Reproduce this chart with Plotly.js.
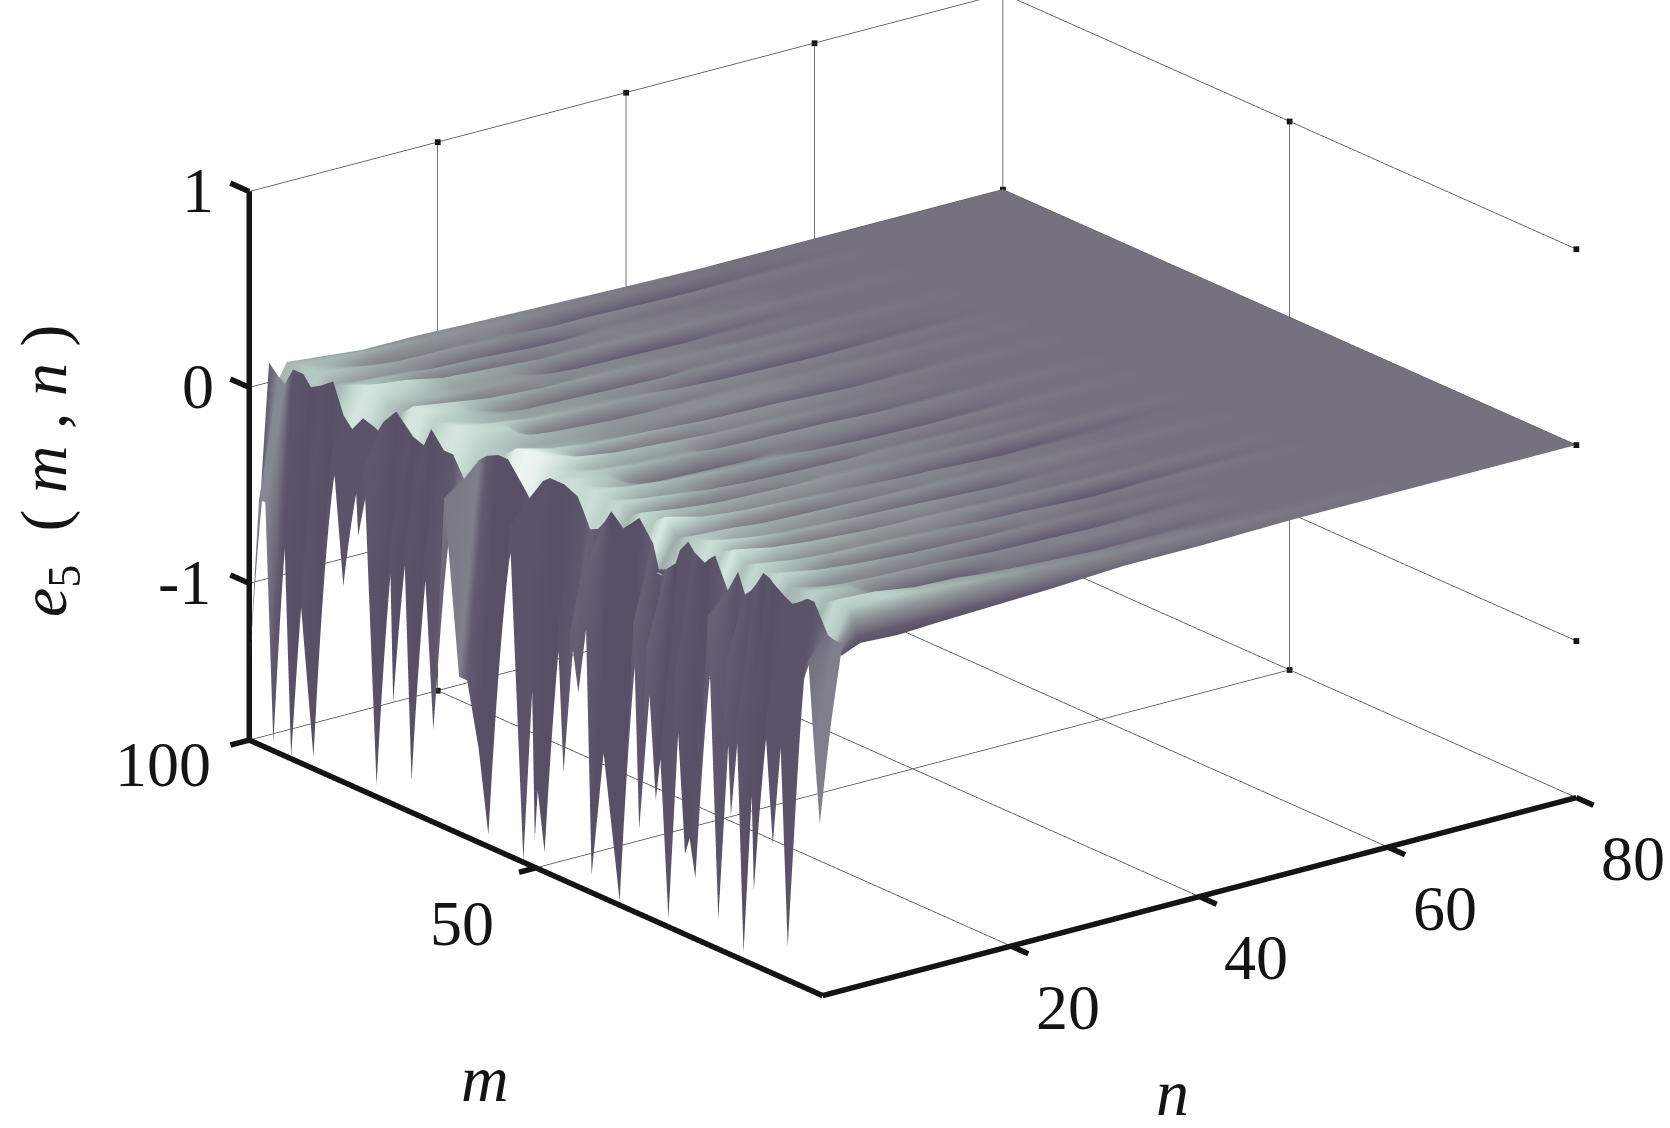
<!DOCTYPE html>
<html><head><meta charset="utf-8">
<script src="https://cdn.plot.ly/plotly-3.0.1.min.js"></script>
<style>html,body{margin:0;padding:0;background:#fff}#c{width:1670px;height:1128px}</style></head>
<body><div id="c"></div>
<script>
// near edge: m position, z at n=0, z at rim, face shade
const mNear=[0,0.5,1.5,2.5,4.9,6.1,7.7,8.7,10,12,12.7,13.8,15,16,17,18.2,20,22.2,23.2,24,25.8,26.9,28.3,29.1,30.7,32,33,35.4,38.2,40.3,41.5,42.6,44,45.2,46.2,48.5,49.7,50.2,51,52.2,54.6,55,56,58.3,60,62,63.4,66,67.9,69.5,71.7,73,74.9,75.5,77.8,80,81,81.5,83.6,85.5,87,88.8,91,92.7,94,95.8,97.2,98.3,100];
const zEdge=[-0.70,-0.93,-0.55,-0.12,-0.44,-1.63,-0.32,-1.14,-0.56,-1.42,-0.51,-1.76,-0.60,-1.09,-0.33,-1.65,-0.12,-1.49,-1.30,-1.39,-0.49,-1.76,-0.96,-1.18,-0.42,-1.37,-0.32,-1.78,-1.06,-1.71,-0.16,-0.81,-0.51,-1.25,-0.55,-1.70,-1.40,-1.66,-0.37,-1.79,-0.12,-0.31,-0.53,-1.74,-1.32,-1.00,-1.00,-0.12,-1.33,-0.46,-1.64,-0.44,-1.28,-0.47,-1.74,-0.14,-0.51,-0.21,-0.80,-0.12,-0.62,-1.74,-0.99,-1.79,-0.57,-1.76,-0.55,-0.55,-1.45];
const zRim=[-0.03,-0.03,-0.03,-0.02,0.12,0.12,0.08,0.06,0.08,0.12,0.14,0.15,0.08,0.03,0,0.10,-0.02,0.13,0.10,0.07,0.10,0.14,0.08,0,-0.05,-0.07,0.05,0.15,0.06,0.12,0.05,0,-0.02,0.06,0.12,0.15,0.15,0.15,0.15,0.12,0,0.02,0.06,0.15,0.15,0.12,0.08,-0.05,0.05,0.05,0.13,0.03,0.05,0.07,0.14,0.06,0,0.01,0.03,-0.05,0,0.15,0.10,0.07,0.12,0.12,0.03,0.05,0.10];
const faceShade=[.8,.8,.8,.6,.1,.1,.1,.1,.1,0,.1,0,.2,.1,.3,.1,.4,.1,0,0,.2,.1,.1,0,.4,.1,.4,0,0,0,.4,.3,.4,.2,.1,0,0,0,.1,.1,.1,.1,0,0,0,.3,.8,.7,.2,.1,0,.1,0,.1,0,.2,.1,.1,.1,.1,.1,0,.1,0,.1,.1,.9,.9,.3];
const nNear=[0,2.1];
// surface body: rows m = 0,2,...,100, columns at nFar (first column is shade only)
const nFar=[2,4,8,12,18,24,32,40,50,62,80];
const zFarLowEdge=-0.09;
const mFar=[0,2,4,6,8,10,12,14,16,18,20,22,24,26,28,30,32,34,36,38,40,42,44,46,48,50,52,54,56,58,60,62,64,66,68,70,72,74,76,78,80,82,84,86,88,90,92,94,96,98,100];
const zFar=[
[-.04,-.05,-.06,-.05,-.04,-.03,-.01,-.01,0,0,0],
[.03,.10,.11,.09,.07,.05,.03,.02,.01,0,0],
[.08,.12,.11,.08,.06,.04,.02,.01,0,0,0],
[.10,.08,.05,.04,.03,-.01,-.02,-.01,0,0,0],
[.07,.11,.08,-.03,-.04,.01,.02,.01,0,0,0],
[.08,.09,.07,.06,.05,.03,.02,.01,0,0,0],
[.12,.08,.03,.02,.01,-.03,-.04,-.01,0,0,0],
[.14,.12,.09,.07,.05,.04,.02,.01,0,0,0],
[.05,.10,.06,-.03,-.05,-.01,.01,0,0,0,0],
[.08,.12,.09,.07,.06,.04,.03,.01,.01,0,0],
[0,.09,.05,.04,.03,.02,-.02,-.03,-.01,0,0],
[.12,.14,.10,.08,.06,.05,.03,.02,.01,0,0],
[.09,.10,-.02,-.05,-.02,.02,.01,0,0,0,0],
[.13,.13,.10,.07,.06,.05,.03,.01,0,0,0],
[.08,.11,.06,.05,.03,-.03,-.03,0,0,0,0],
[-.03,.10,.09,.07,.06,.05,.03,.02,.01,0,0],
[-.06,.07,.03,-.04,-.05,.01,.02,.01,0,0,0],
[.14,.15,.10,.08,.06,.04,.03,.01,0,0,0],
[.10,.10,.05,.04,.03,.02,-.02,-.03,-.01,0,0],
[.07,.12,.09,.07,.06,.05,.03,.02,.01,0,0],
[.11,.08,-.03,-.05,0,.03,.02,0,0,0,0],
[.03,.12,.10,.07,.05,.04,.03,.02,0,0,0],
[-.02,.11,.06,.05,-.03,-.04,.01,0,0,0,0],
[.11,.13,.10,.08,.06,.05,.03,.02,.01,0,0],
[.15,.12,.07,.05,.04,.03,-.03,-.02,0,0,0],
[.15,.13,.09,-.02,-.05,.01,.02,.01,0,0,0],
[.12,.12,.10,.08,.06,.05,.04,.02,.01,0,0],
[.02,.14,.08,.06,.05,-.03,-.04,-.01,0,0,0],
[.05,.17,.12,.09,.07,.05,.03,.01,0,0,0],
[.15,.18,.10,-.03,-.05,.02,.02,.01,0,0,0],
[.15,.16,.11,.08,.07,.05,.04,.02,.01,0,0],
[.12,.10,.08,.06,.03,-.02,-.04,-.02,0,0,0],
[.09,.10,.07,.06,.04,.04,.03,.01,0,0,0],
[-.05,.11,.09,.07,.05,.04,.03,.02,.01,0,0],
[.06,.13,.11,-.03,-.05,.01,.02,.01,0,0,0],
[.08,.14,.11,.08,.06,.05,.03,.02,.01,0,0],
[.12,.13,.08,.06,.05,.03,-.03,-.03,-.01,0,0],
[.04,.11,.09,.06,.05,.04,.03,.02,0,0,0],
[.07,.14,.10,.04,-.03,-.04,.01,.01,0,0,0],
[.13,.14,.11,.08,.06,.05,.03,.02,.01,0,0],
[.06,.08,-.02,-.04,.02,.03,.02,0,0,0,0],
[.02,.10,.08,.06,.05,.03,.02,.01,0,0,0],
[0,.13,.10,.06,.05,-.03,-.04,-.01,0,0,0],
[-.03,.14,.12,.08,.06,.04,.03,.02,.01,0,0],
[.14,.12,.07,-.03,-.05,.01,.02,.01,0,0,0],
[.09,.09,.08,.06,.05,.03,.02,.01,0,0,0],
[.08,.07,.05,.04,-.03,-.04,.01,0,0,0,0],
[.13,.10,.08,.06,.05,.03,.03,.02,.01,0,0],
[.12,.10,.06,.01,.02,.02,-.03,-.03,-.01,0,0],
[.06,.09,.08,.07,.05,.04,.02,.01,0,0,0],
[.10,.08,.06,.04,.04,.03,.02,.01,0,0,0]];

const nTicks=[20,40,60,80], mTicks=[50,100], zTicks=[-1,0,1];
const nMax=80, mMax=100, zMin=-1.8, zMax=1;
const colors=[[0,'#544c64'],[.75,'#574f66'],[.875,'#5a5167'],[.89,'#655d72'],[.9,'#76727f'],[.91,'#7f7e88'],[.925,'#8f9599'],[.94,'#a5b5b2'],[.955,'#bcd2ca'],[.97,'#d0e2da'],[.985,'#e8f0ec'],[1,'#f4f7f5']];
const faceColors=[[0,'#574f66'],[.3,'#625a70'],[1,'#8b8f97']];

const flat={ambient:1,diffuse:0,specular:0,roughness:1,fresnel:0};
const noHi={x:{highlight:false},y:{highlight:false},z:{highlight:false}};
const farZ=zFar.map(r=>[zFarLowEdge,...r.slice(1)]);
const farC=zFar.map(r=>[r[1],...r.slice(1)]);
const nearZ=mNear.map((_,i)=>[zEdge[i],zRim[i]]);
const nearC=mNear.map((_,i)=>[faceShade[i],faceShade[i]]);
const surfFar={type:'surface',x:nFar,y:mFar,z:farZ,surfacecolor:farC,colorscale:colors,cmin:-1.8,cmax:0.2,showscale:false,lighting:flat,hoverinfo:'skip',contours:noHi};
const surfNear={type:'surface',x:nNear,y:mNear,z:nearZ,surfacecolor:nearC,colorscale:faceColors,cmin:0,cmax:1,showscale:false,lighting:flat,hoverinfo:'skip',contours:noHi};

function segs(list,color,width){
  const x=[],y=[],z=[];
  list.forEach(s=>{x.push(s[0],s[3],null);y.push(s[1],s[4],null);z.push(s[2],s[5],null);});
  return {type:'scatter3d',mode:'lines',x,y,z,line:{color,width},hoverinfo:'skip',showlegend:false};
}
const thin=[], thick=[], dots=[];
zTicks.forEach(v=>{thin.push([0,mMax,v,nMax,mMax,v],[nMax,0,v,nMax,mMax,v]);
  thick.push([0,mMax,v,0,mMax+3.3,v]);
  dots.push([nMax,0,v]);});
thin.push([0,mMax,zMin,nMax,mMax,zMin],[nMax,0,zMin,nMax,mMax,zMin],[0,50,zMin,nMax,50,zMin],[nMax,50,zMin,nMax,50,zMax]);
nTicks.forEach(v=>{thin.push([v,0,zMin,v,mMax,zMin],[v,mMax,zMin,v,mMax,zMax]);
  thick.push([v,0,zMin,v,-3,zMin]);
  dots.push([v,mMax,zMax],[v,mMax,zMin]);});
dots.push([nMax,50,zMax],[nMax,50,zMin],[nMax,mMax,0]);
thick.push([0,0,zMin,nMax,0,zMin],[0,0,zMin,0,mMax,zMin],[0,mMax,zMin,0,mMax,zMax]);
thick.push([0,50,zMin,-1.8,50,zMin],[0,100,zMin,-2,100,zMin]);

const data=[segs(thin,'#444',1.5),surfFar,surfNear,segs(thick,'#141414',11),
 {type:'scatter3d',mode:'markers',x:dots.map(d=>d[0]),y:dots.map(d=>d[1]),z:dots.map(d=>d[2]),marker:{size:3,color:'#141414',symbol:'square'},hoverinfo:'skip',showlegend:false}];

const serif='"Liberation Serif","Times New Roman",serif';
const lab=(x,y,z,text,xs,ys)=>({x,y,z,text:String(text),showarrow:false,xshift:xs,yshift:ys,font:{family:serif,size:64,color:'#141414'}});
const sceneAnn=[
 ...zTicks.map(v=>lab(0,mMax,v,v===-1?'-1':v,v===-1?-65:-51,1)),
 lab(0,mMax,zMin,100,-86,-24),
 lab(0,50,zMin,50,-74,-56),
 ...nTicks.map(v=>lab(v,0,zMin,v,57,-61))
];
const axOff={visible:false,showspikes:false};
const dir=[-0.572,-0.745,0.342], r=2.0, c=[-0.1314,0.0553,-0.0993];
const paperLab=(px,py,text,size,angle)=>({xref:'paper',yref:'paper',x:px/1670,y:1-py/1128,xanchor:'center',yanchor:'middle',text,showarrow:false,textangle:angle||0,font:{family:serif,size,color:'#141414'}});
const layout={width:1670,height:1128,margin:{l:0,r:0,t:0,b:0},paper_bgcolor:'#fff',showlegend:false,
 scene:{domain:{x:[0,1],y:[0,1]},bgcolor:'#fff',
  xaxis:{...axOff,range:[-3,83]},yaxis:{...axOff,range:[-4,104]},zaxis:{...axOff,range:[-2,1.1]},
  aspectmode:'manual',aspectratio:{x:1.811,y:1.803,z:1.146},
  camera:{projection:{type:'orthographic'},up:{x:0,y:0,z:1},center:{x:c[0],y:c[1],z:c[2]},eye:{x:c[0]+dir[0]*r,y:c[1]+dir[1]*r,z:c[2]+dir[2]*r}},
  annotations:sceneAnn},
 annotations:[
  paperLab(485,1078,'<i>m</i>',66),
  paperLab(1172,1092,'<i>n</i>',66),
  paperLab(48,471,'<i>e</i><sub>5</sub>  ( <i>m</i> , <i>n</i> )',66,-90)
 ]};
Plotly.newPlot('c',data,layout,{displayModeBar:false,responsive:false});
</script></body></html>
